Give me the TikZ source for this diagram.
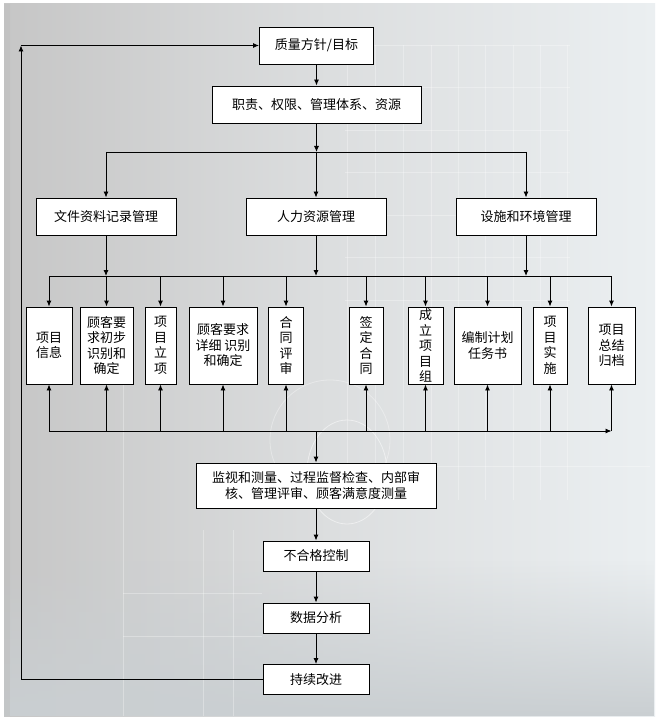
\documentclass[tikz,border=0pt]{standalone}
\usepackage{fontspec}
\newfontfamily\cjk{Noto Sans CJK SC}
\usetikzlibrary{arrows.meta,fadings}
\definecolor{bgL}{RGB}{198,198,198}
\definecolor{bgM}{RGB}{220,222,223}
\definecolor{bgR}{RGB}{235,239,241}
\definecolor{bgB}{RGB}{202,207,210}
\begin{document}
\begin{tikzpicture}[x=1pt,y=-1pt,
  box/.style={draw=black, fill=white, line width=0.9pt, inner sep=0pt, align=center,
    font=\cjk\fontsize{13}{15.5}\selectfont},
  hbox/.style={box, minimum height=37pt},
  rbox/.style={box, minimum height=77pt, minimum width=#1},
  lbox/.style={box, minimum width=106pt, minimum height=30pt},
  arr/.style={-{Latex[length=6pt,width=5pt]}, line width=0.9pt},
  ln/.style={line width=0.9pt},
  deco/.style={white, line width=0.8pt, opacity=0.3}]
\useasboundingbox (0,0) rectangle (663,719);
\fill[white] (0,0) rectangle (663,719);
\shade[left color=bgL, right color=bgR, middle color=bgM] (4,4) rectangle (655,716);
\fill[bgB, path fading=north] (4,560) rectangle (655,716);
\fill[black!25, opacity=0.5] (4,4) rectangle (10,716);
% faint background grid
\foreach \yy in {45,87,130,172,215,257,300} \draw[deco] (345,\yy) -- (570,\yy);
\foreach \xx in {347,375,403,431,458,485,513,540,567} \draw[deco] (\xx,45) -- (\xx,500);
\draw[deco] (437,466) -- (650,466);
\draw[deco] (123,330) -- (123,716);
\foreach \yy in {593,636} \draw[deco] (123,\yy) -- (262,\yy);
\foreach \xx in {203,233} \draw[deco] (\xx,530) -- (\xx,716);
\draw[deco, opacity=0.5] (347,472) ellipse (40 and 52);
\draw[deco, opacity=0.35] (330,440) circle (60);

% nodes
\node[hbox, minimum width=114pt] (q) at (316.5,45.5) {质量方针/目标};
\node[hbox, minimum width=209pt] (z) at (316.5,104.5) {职责、权限、管理体系、资源};
\node[hbox, minimum width=140pt] (f1) at (106,216.5) {文件资料记录管理};
\node[hbox, minimum width=140pt] (f2) at (316,216.5) {人力资源管理};
\node[hbox, minimum width=140pt] (f3) at (526,216.5) {设施和环境管理};

\node[rbox=46pt] (r1) at (49,345.5) {项目\\信息};
\node[rbox=53pt] (r2) at (106.5,345.5) {顾客要\\求初步\\识别和\\确定};
\node[rbox=31pt] (r3) at (160.5,345.5) {项\\目\\立\\项};
\node[rbox=68pt] (r4) at (223,345.5) {顾客要求\\详细 识别\\和确定};
\node[rbox=35pt] (r5) at (286,345.5) {合\\同\\评\\审};
\node[rbox=34pt] (r6) at (366,345.5) {签\\定\\合\\同};
\node[rbox=35pt] (r7) at (425.5,345.5) {成\\立\\项\\目\\组};
\node[rbox=67pt] (r8) at (487.5,345.5) {编制计划\\任务书};
\node[rbox=34pt] (r9) at (550,345.5) {项\\目\\实\\施};
\node[rbox=47pt] (r10) at (611.5,345.5) {项目\\总结\\归档};

\node[box, minimum width=240pt, minimum height=45pt] (m) at (316,485.5)
  {监视和测量、过程监督检查、内部审\\核、管理评审、顾客满意度测量};
\node[lbox] (n) at (316,556) {不合格控制};
\node[lbox] (d) at (316,618) {数据分析};
\node[lbox] (c) at (316,679.5) {持续改进};

% helper coordinates
\coordinate (ub) at (0,152);
\coordinate (tb) at (0,276);
\coordinate (bb) at (0,431);
\coordinate (lx) at (21,0);

% connectors
\draw[arr] (q) -- (z);
\draw[arr] (z) -- (z |- ub);
\draw[ln] (f1 |- ub) -- (f3 |- ub);
\foreach \f in {f1,f2,f3} {
  \draw[arr] (\f |- ub) -- (\f.north);
  \draw[arr] (\f.south) -- (\f |- tb);
}
\draw[ln] (r1 |- tb) -- (r10 |- tb);
\foreach \r in {r1,r2,r3,r4,r5,r6,r7,r8,r9,r10} {
  \draw[arr] (\r |- tb) -- (\r.north);
  \draw[arr] (\r |- bb) -- (\r.south);
}
\draw[arr] (r1 |- bb) -- (r10 |- bb);
\draw[arr] (m |- bb) -- (m.north);
\draw[arr] (m) -- (n);
\draw[arr] (n) -- (d);
\draw[arr] (d) -- (c);
\draw[arr] (c.west) -- (lx |- c) -- (lx |- q);
\draw[arr] (lx |- q) -- (q.west);
\end{tikzpicture}
\end{document}
